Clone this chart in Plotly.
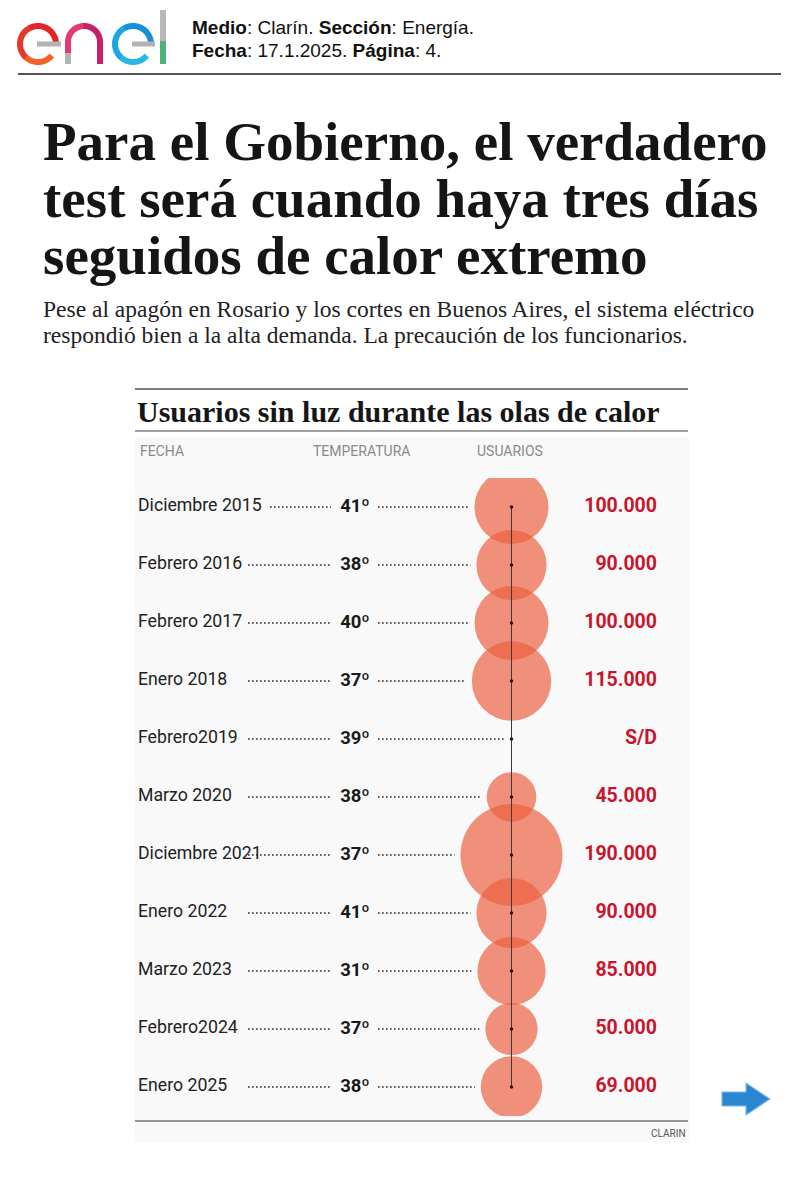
import math
import plotly.graph_objects as go

# ---------------- data ----------------
fechas = ["Diciembre 2015", "Febrero 2016", "Febrero 2017", "Enero 2018", "Febrero2019",
          "Marzo 2020", "Diciembre 2021", "Enero 2022", "Marzo 2023", "Febrero2024", "Enero 2025"]
temperaturas = [41, 38, 40, 37, 39, 38, 37, 41, 31, 37, 38]
usuarios = [100000, 90000, 100000, 115000, None, 45000, 190000, 90000, 85000, 50000, 69000]

titulo = ["Para el Gobierno, el verdadero", "test será cuando haya tres días", "seguidos de calor extremo"]
bajada = ["Pese al apagón en Rosario y los cortes en Buenos Aires, el sistema eléctrico",
          "respondió bien a la alta demanda. La precaución de los funcionarios."]
titulo_grafico = "Usuarios sin luz durante las olas de calor"
columnas = ["FECHA", "TEMPERATURA", "USUARIOS"]

# ---------------- helpers ----------------
OFF = 8            # page body margin
W, H = 784, 1184   # figure size
def X(px): return (px - OFF) / W
def Y(py): return 1 - (py - OFF) / H

def fmt(v):
    return "S/D" if v is None else f"{v:,}".replace(",", ".")

D100 = 74  # bubble diameter for 100.000 users
SIZEREF = 2 * 100000 / D100 ** 2
def diam(v):
    return 0 if v is None else math.sqrt(2 * v / SIZEREF)

CX = 511.5  # bubble column
n = len(fechas)
row_top, row_step = 507, 58
y_top = row_top - row_step / 2
y_bot = row_top + row_step * (n - 1) + row_step / 2

fig = go.Figure()

# leaders
lx, ly, rx, ry = [], [], [], []
for i, (f, v) in enumerate(zip(fechas, usuarios)):
    start = 270 if i == 0 else 248
    lx += [start, 331, None]; ly += [f, f, None]
    end = CX - diam(v) / 2 - 6 if v is not None else CX - 7
    rx += [378, end, None]; ry += [f, f, None]
dotline = dict(color="#333333", width=1.7, dash="1.7px,2.3px")
fig.add_trace(go.Scatter(x=lx, y=ly, mode="lines", line=dotline, hoverinfo="skip"))
fig.add_trace(go.Scatter(x=rx, y=ry, mode="lines", line=dotline, hoverinfo="skip"))

# bubbles
bf = [f for f, v in zip(fechas, usuarios) if v is not None]
bv = [v for v in usuarios if v is not None]
fig.add_trace(go.Scatter(
    x=[CX] * len(bv), y=bf, mode="markers",
    marker=dict(size=bv, sizemode="area", sizeref=SIZEREF, opacity=1,
                color="rgba(236,95,62,0.68)", line=dict(width=0)),
    hoverinfo="skip"))

# vertical axis line + centre dots
fig.add_trace(go.Scatter(x=[CX] * n, y=fechas, mode="lines+markers",
                         line=dict(color="#3a3a3a", width=1),
                         marker=dict(size=3.5, color="#1a1a1a"), hoverinfo="skip"))

# labels
fig.add_trace(go.Scatter(x=[138] * n, y=fechas, mode="text", text=fechas,
                         textposition="middle right",
                         textfont=dict(family="Roboto", size=17.7, color="#222222"),
                         hoverinfo="skip"))
fig.add_trace(go.Scatter(x=[355] * n, y=fechas, mode="text",
                         text=[f"<b>{t}º</b>" for t in temperaturas],
                         textposition="middle center",
                         textfont=dict(family="Roboto", size=18.5, color="#1a1a1a"),
                         hoverinfo="skip"))
fig.add_trace(go.Scatter(x=[657] * n, y=fechas, mode="text",
                         text=[f"<b>{fmt(v)}</b>" for v in usuarios],
                         textposition="middle left",
                         textfont=dict(family="Roboto", size=19.5, color="#c8162f"),
                         hoverinfo="skip"))

shapes = []
def hline(x0, x1, y, color, width):
    shapes.append(dict(type="line", xref="paper", yref="paper", x0=X(x0), x1=X(x1),
                       y0=Y(y), y1=Y(y), line=dict(color=color, width=width)))

# chart panel background
shapes.append(dict(type="rect", xref="paper", yref="paper", x0=X(135), x1=X(689),
                   y0=Y(437), y1=Y(1143), fillcolor="#f9f9f9", line=dict(width=0),
                   layer="below"))
hline(18, 781, 74, "#555555", 2)
hline(135, 688, 389, "#7a7a7a", 2)
hline(135, 688, 431, "#444444", 1.2)
hline(135, 688, 1121, "#333333", 1.2)

# arrow
pts = [(722, 1092), (746, 1092), (746, 1083), (770, 1099), (746, 1115), (746, 1106), (722, 1106)]
path = "M " + " L ".join(f"{X(a)},{Y(b)}" for a, b in pts) + " Z"
shapes.append(dict(type="path", xref="paper", yref="paper", path=path,
                   fillcolor="#2a86d3", line=dict(color="#7dbbea", width=1.2)))

# logo
def poly(points):
    return "M " + " L ".join(f"{X(a):.5f},{Y(b):.5f}" for a, b in points)
def arc(cx, cy, r, a0, a1, k=30):
    out = []
    for j in range(k + 1):
        a = math.radians(a0 + (a1 - a0) * j / k)
        out.append((cx + r * math.cos(a), cy - r * math.sin(a)))
    return out
def stroke(points, color, w=6):
    shapes.append(dict(type="path", xref="paper", yref="paper", path=poly(points),
                       line=dict(color=color, width=w)))

# e (red/orange)
stroke(arc(38, 44, 18, 5, 120), "#e4232f")
stroke(arc(38, 44, 18, 118, 230), "#e6372a")
stroke(arc(38, 44, 18, 228, 320), "#f0612a")
stroke([(37, 44), (61, 44)], "#b3b3b3", 5)
# n (pink/magenta)
stroke([(68, 64), (68, 52)], "#b3b3b3")
stroke([(68, 53), (68, 42)] + arc(84, 42, 16, 180, 90), "#e33a74")
stroke(arc(84, 42, 16, 92, 0) + [(100, 42), (100, 64)], "#c81f6a")
# e (blue/cyan)
stroke(arc(133, 44, 18, 5, 120), "#1a8fd9")
stroke(arc(133, 44, 18, 118, 230), "#1ea6e3")
stroke(arc(133, 44, 18, 228, 320), "#2bb7e6")
stroke([(132, 44), (155, 44)], "#b3b3b3", 5)
# l (gray/green)
stroke([(163, 10), (163, 42)], "#b8b8b8")
stroke([(163, 41), (163, 64)], "#4db479")

annotations = []
def text(x, y, t, size, family, color="#111111", xanchor="left", yanchor="middle"):
    annotations.append(dict(x=X(x), y=Y(y), xref="paper", yref="paper", text=t,
                            showarrow=False, xanchor=xanchor, yanchor=yanchor,
                            font=dict(size=size, family=family, color=color)))

text(190, 28, "<b>Medio</b>: Clarín. <b>Sección</b>: Energía.", 19, "Liberation Sans", "#111111")
text(190, 51, "<b>Fecha</b>: 17.1.2025. <b>Página</b>: 4.", 19, "Liberation Sans", "#111111")

for k, line in enumerate(titulo):
    text(41, 141 + 57 * k, f"<b>{line}</b>", 55, "Liberation Serif", "#151515")
for k, line in enumerate(bajada):
    text(41, 309 + 26 * k, line, 23.5, "Liberation Serif", "#222222")

text(135, 411, f"<b>{titulo_grafico}</b>", 30, "Liberation Serif", "#161616")
for cx, c in zip([138, 311, 475], columnas):
    text(cx, 451, c, 14, "Roboto", "#8a8a8a")
text(688, 1133, "CLARIN", 10, "Roboto", "#555555", xanchor="right")

fig.update_layout(
    width=W, height=H, margin=dict(l=0, r=0, t=0, b=0),
    paper_bgcolor="white", plot_bgcolor="rgba(0,0,0,0)",
    showlegend=False,
    xaxis=dict(range=[OFF, OFF + W], domain=[0, 1], visible=False, fixedrange=True),
    yaxis=dict(type="category", categoryarray=fechas, categoryorder="array",
               range=[n - 0.5, -0.5], domain=[Y(y_bot), Y(y_top)],
               visible=False, fixedrange=True),
    shapes=shapes, annotations=annotations,
)

fig.write_html("out.html")
